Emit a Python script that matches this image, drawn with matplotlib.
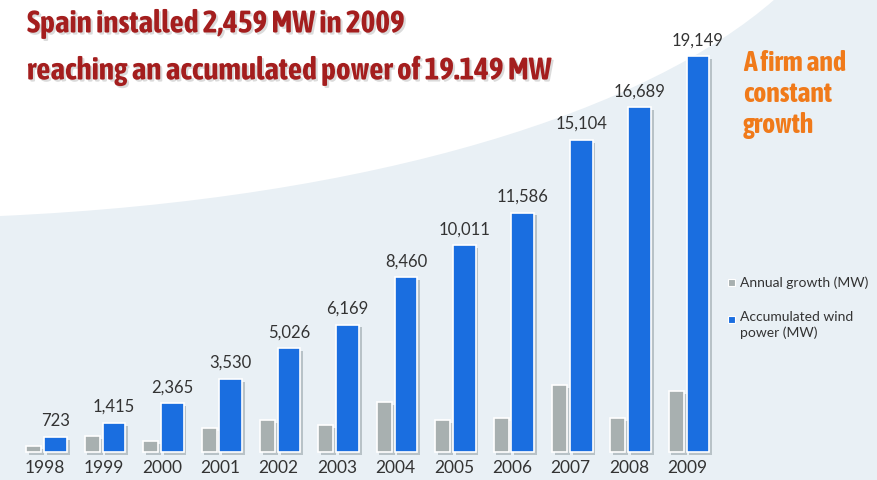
import numpy as np
import matplotlib
matplotlib.use("Agg")
import matplotlib.pyplot as plt
from matplotlib.path import Path
from matplotlib.patches import PathPatch, Rectangle
import matplotlib.patheffects as pe

years = ["1998", "1999", "2000", "2001", "2002", "2003",
         "2004", "2005", "2006", "2007", "2008", "2009"]
accumulated = [723, 1415, 2365, 3530, 5026, 6169,
               8460, 10011, 11586, 15104, 16689, 19149]
# annual growth
annual = [290, 770, 530, 1160, 1550, 1300,
          2420, 1550, 1650, 3240, 1650, 2950]

title_lines = ["Spain installed 2,459 MW in 2009",
               "reaching an accumulated power of 19.149 MW"]
side_note = "A firm and\nconstant\ngrowth"
legend_labels = ["Annual growth (MW)", "Accumulated wind\npower (MW)"]

narrow = ["Asap Condensed", "Archivo Narrow", "Roboto", "DejaVu Sans"]
body = ["Lato", "DejaVu Sans"]

W, H = 878, 481
fig = plt.figure(figsize=(W / 100, H / 100), dpi=100)
fig.patch.set_facecolor("#e9f0f5")

ax = fig.add_axes([0, 0, 1, 1])
ax.set_facecolor("none")
ax.axis("off")

# white swoosh in the upper left (figure pixel coords, y from bottom)
verts = [(0, H), (0, H - 217), (380, H - 200), (650, H - 110), (775, H), (0, H)]
codes = [Path.MOVETO, Path.LINETO, Path.CURVE4, Path.CURVE4, Path.CURVE4, Path.CLOSEPOLY]
sw = PathPatch(Path([(x / W, y / H) for x, y in verts], codes),
               transform=fig.transFigure, facecolor="white", edgecolor="none", zorder=0)
ax.add_patch(sw)

px = 58.4          # pixels per group
mw_px = 48.4       # MW per pixel
ax.set_xlim(-45 / px, (W - 45) / px)
ax.set_ylim(-28 * mw_px, (H - 28) * mw_px)

x = np.arange(len(years))
shadow = [pe.SimplePatchShadow(offset=(2, -2), shadow_rgbFace="#7d8a90", alpha=0.45), pe.Normal()]
gb = ax.bar(x - 0.19, annual, width=0.26, color="#a8b0b0",
            edgecolor="white", linewidth=1.2, zorder=3)
bb = ax.bar(x + 0.18, accumulated, width=0.39, color="#1a6ee0",
            edgecolor="white", linewidth=1.2, zorder=3)
for b in list(gb) + list(bb):
    b.set_path_effects(shadow)

for xi, v in zip(x, accumulated):
    ax.text(xi + 0.18, v + 9 * mw_px, f"{v:,}", ha="center", va="bottom",
            fontsize=12, color="#333333", family=body, zorder=5)
for xi, y in zip(x, years):
    ax.text(xi, -15 * mw_px, y, ha="center", va="center",
            fontsize=12.5, color="#333333", family=body, zorder=5)

tshadow = [pe.withSimplePatchShadow(offset=(1.5, -1.5), shadow_rgbFace="#999999", alpha=0.35)]
tkw = dict(fontsize=22.5, fontweight="bold", color="#a41e1e",
           family=narrow, transform=fig.transFigure, path_effects=tshadow)
fig.text(27 / W, 1 - 25 / H, title_lines[0], va="center", ha="left", **tkw)
fig.text(27 / W, 1 - 72 / H, title_lines[1], va="center", ha="left", **tkw)

fig.text(743 / W, 1 - 50 / H, side_note, va="top", ha="left", fontsize=20,
         fontweight="bold", color="#f07a1a", family=narrow, linespacing=1.2)

# legend
for yy, c in [(283, "#a8b0b0"), (320, "#1a6ee0")]:
    fig.patches.append(Rectangle((728 / W, 1 - (yy + 4) / H), 7 / W, 7 / H,
                                 transform=fig.transFigure, facecolor=c,
                                 edgecolor="white", linewidth=0.8))
fig.text(740 / W, 1 - 283 / H, legend_labels[0], va="center", ha="left",
         fontsize=10, color="#333333", family=body)
fig.text(740 / W, 1 - 311 / H, legend_labels[1], va="top", ha="left",
         fontsize=10, color="#333333", family=body, linespacing=1.3)

fig.savefig("out.png", dpi=100, facecolor=fig.get_facecolor())
